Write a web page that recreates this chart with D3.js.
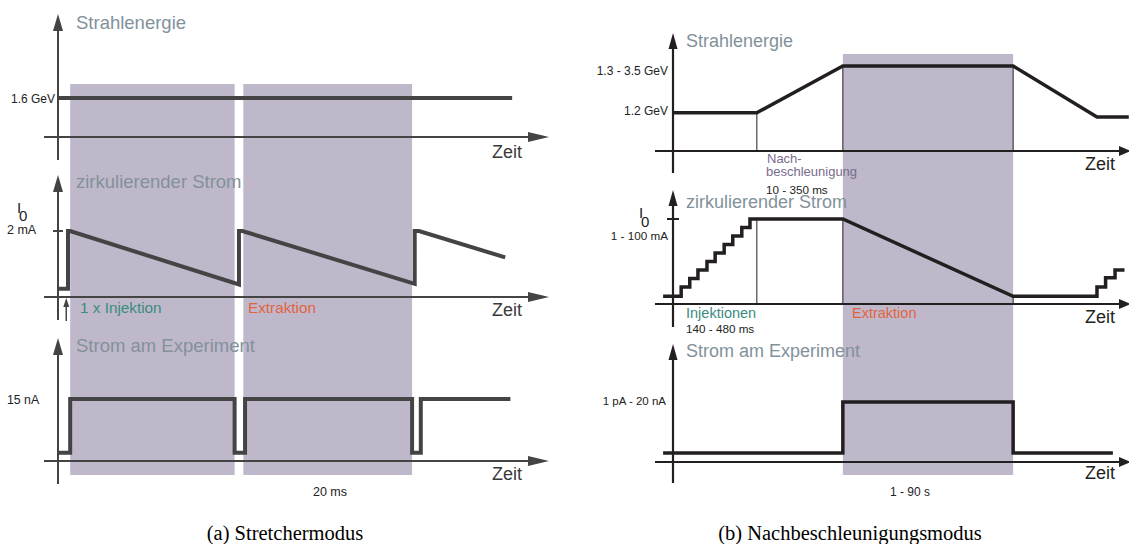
<!DOCTYPE html>
<html>
<head>
<meta charset="utf-8">
<script src="https://cdn.jsdelivr.net/npm/d3@7"></script>
<style>
  html, body { margin: 0; padding: 0; background: #fff; }
  svg { display: block; font-family: "Liberation Sans", Arial, Helvetica, sans-serif; }
</style>
</head>
<body>
<svg id="chart" width="1129" height="544"></svg>
<script>
// ---- (a) Stretchermodus : time in ms ----
const aExtraction = [[1.4, 20.3], [21.3, 40.7]];
const aEnergy = [[0, 1.6], [52.2, 1.6]];                       // GeV
const aCurrent = [[-0.1, 0.25], [1.15, 0.25], [1.15, 2], [1.4, 2], [20.8, 0.38], [20.8, 2], [21.2, 2],
                  [41.0, 0.4], [41.0, 2], [41.5, 2], [51.4, 1.2]]; // mA
const aBeam = [[-0.1, 2], [1.4, 2], [1.4, 15], [20.3, 15], [20.3, 2], [21.5, 2], [21.5, 15], [40.7, 15],
               [40.7, 2], [41.7, 2], [41.7, 15], [52, 15]];    // nA
const aTicks = ["1.6 GeV", "2 mA", "15 nA"];

// ---- (b) Nachbeschleunigungsmodus : schematic time, relative levels ----
const bExtraction = [[39.5, 79.1]];
const bEnergy = [[0, 0.45], [19.5, 0.45], [39.5, 1], [79.1, 1], [98.6, 0.4], [106, 0.4]];
const bCurrent = [[-2.3, 0.09], [1.9, 0.09], [1.9, 0.2], [3.9, 0.2], [3.9, 0.3], [5.8, 0.3], [5.8, 0.4],
                  [7.9, 0.4], [7.9, 0.5], [9.8, 0.5], [9.8, 0.6], [11.9, 0.6], [11.9, 0.7], [13.9, 0.7],
                  [13.9, 0.8], [16, 0.8], [16, 0.9], [17.9, 0.9], [17.9, 1], [39.5, 1], [79.1, 0.09],
                  [98.6, 0.09], [98.6, 0.2], [100.6, 0.2], [100.6, 0.31], [102.8, 0.31], [102.8, 0.4], [105, 0.4]];
const bBeam = [[-2.3, 0.15], [39.5, 0.15], [39.5, 1], [79.1, 1], [79.1, 0.15], [102.3, 0.15]];
const bGuides = [ // [row, time, from level, to level]
  [0, 19.5, 0.45, 0], [0, 39.5, 1, 0], [0, 79.1, 1, 0],
  [1, 19.5, 1, 0], [1, 39.5, 1, 0], [1, 79.1, 0.09, 0]
];
const bTicks = ["1.3 - 3.5 GeV", "1.2 GeV", "1 - 100 mA", "1 pA - 20 nA"];

const titles = ["Strahlenergie", "zirkulierender Strom", "Strom am Experiment"];

const C = { shade: "#bfb8cb", lineA: "#444444", lineB: "#231f20", title: "#82919a",
            teal: "#3b8c80", orange: "#e2643f", purple: "#7a6c8c" };

const svg = d3.select("#chart");

// scales
const xa = d3.scaleLinear().domain([0, 50]).range([58, 493]);
const xb = d3.scaleLinear().domain([0, 100]).range([673, 1103]);
const ya = [
  d3.scaleLinear().domain([0, 1.6]).range([137, 98]),
  d3.scaleLinear().domain([0, 2]).range([297, 231]),
  d3.scaleLinear().domain([0, 15]).range([461, 399])
];
const yb = [
  d3.scaleLinear().domain([0, 1]).range([151, 66]),
  d3.scaleLinear().domain([0, 1]).range([304, 219]),
  d3.scaleLinear().domain([0, 1]).range([462, 402])
];

// shaded extraction windows
svg.append("g").selectAll("rect")
  .data(aExtraction).join("rect")
    .attr("x", d => xa(d[0])).attr("width", d => xa(d[1]) - xa(d[0]))
    .attr("y", 84).attr("height", 391).attr("fill", C.shade);
svg.append("g").selectAll("rect")
  .data(bExtraction).join("rect")
    .attr("x", d => xb(d[0])).attr("width", d => xb(d[1]) - xb(d[0]))
    .attr("y", 54).attr("height", 421).attr("fill", C.shade);

// axes with arrow heads
function axes(x, ys, vTops, vBottoms, hStart, hEnd, color, w, head) {
  const g = svg.append("g");
  ys.forEach((y, i) => {
    const y0 = y(0), x0 = x(0);
    g.append("line").attr("x1", x0).attr("x2", x0).attr("y1", vBottoms[i]).attr("y2", vTops[i] + 8)
      .attr("stroke", color).attr("stroke-width", w);
    g.append("path").attr("fill", color)
      .attr("d", `M${x0},${vTops[i]}L${x0 - head.vw},${vTops[i] + head.vl}L${x0 + head.vw},${vTops[i] + head.vl}Z`);
    g.append("line").attr("x1", hStart).attr("x2", hEnd - 8).attr("y1", y0).attr("y2", y0)
      .attr("stroke", color).attr("stroke-width", w);
    g.append("path").attr("fill", color)
      .attr("d", `M${hEnd},${y0}L${hEnd - head.hl},${y0 - head.hw}L${hEnd - head.hl},${y0 + head.hw}Z`);
  });
  return g;
}
axes(xa, ya, [14, 175, 338], [160, 320, 484], 44, 549, C.lineA, 2, { vw: 5, vl: 17, hw: 5, hl: 21 });
axes(xb, yb, [33, 190, 344], [173, 327, 483], 655, 1131, C.lineB, 2.2, { vw: 4.5, vl: 16, hw: 5, hl: 12 });

// thin guide lines (b)
svg.append("g").selectAll("line")
  .data(bGuides).join("line")
    .attr("x1", d => xb(d[1])).attr("x2", d => xb(d[1]))
    .attr("y1", d => yb[d[0]](d[2])).attr("y2", d => yb[d[0]](d[3]))
    .attr("stroke", C.lineB).attr("stroke-width", 1);

// tick marks for I0
svg.append("line").attr("x1", 53).attr("x2", 63).attr("y1", ya[1](2)).attr("y2", ya[1](2))
  .attr("stroke", C.lineA).attr("stroke-width", 2);
svg.append("line").attr("x1", 667).attr("x2", 679).attr("y1", yb[1](1)).attr("y2", yb[1](1))
  .attr("stroke", C.lineB).attr("stroke-width", 2);

// data lines
function trace(data, x, y, color, w) {
  svg.append("path").datum(data)
    .attr("d", d3.line().x(d => x(d[0])).y(d => y(d[1])))
    .attr("fill", "none").attr("stroke", color).attr("stroke-width", w)
    .attr("stroke-linejoin", "miter").attr("stroke-linecap", "butt");
}
trace(aEnergy, xa, ya[0], C.lineA, 4);
trace(aCurrent, xa, ya[1], C.lineA, 4);
trace(aBeam, xa, ya[2], C.lineA, 4);
trace(bEnergy, xb, yb[0], C.lineB, 3.5);
trace(bCurrent, xb, yb[1], C.lineB, 3.5);
trace(bBeam, xb, yb[2], C.lineB, 3.5);

// single injection arrow (a)
const ix = xa(0.95);
svg.append("line").attr("x1", ix).attr("x2", ix).attr("y1", 321).attr("y2", 304)
  .attr("stroke", C.lineA).attr("stroke-width", 1.5);
svg.append("path").attr("fill", C.lineA).attr("d", `M${ix},298L${ix - 3},307L${ix + 3},307Z`);

// texts
function text(x, y, s, o = {}) {
  return svg.append("text").attr("x", x).attr("y", y).text(s)
    .attr("font-size", o.size || 12).attr("fill", o.color || "#222")
    .attr("text-anchor", o.anchor || "start")
    .attr("font-family", o.family || null);
}
[29, 188, 352].forEach((y, i) => text(76, y, titles[i], { size: 18.5, color: C.title }));
[47, 208, 357].forEach((y, i) => text(686, y, titles[i], { size: 18, color: C.title }));

[158, 316, 480].forEach(y => text(492, y, "Zeit", { size: 18, color: "#3a3a3a" }));
[170, 323, 479].forEach(y => text(1085, y, "Zeit", { size: 18, color: "#231f20" }));

text(11, 102.5, aTicks[0], { size: 12 });
text(7, 234, aTicks[1], { size: 12.5 });
text(7, 404, aTicks[2], { size: 12.3 });
text(17, 213, "I", { size: 15 });
text(19, 221, "0", { size: 15 });

text(668, 74.5, bTicks[0], { size: 12, anchor: "end" });
text(668, 114.5, bTicks[1], { size: 12, anchor: "end" });
text(668, 240, bTicks[2], { size: 11.7, anchor: "end" });
text(666, 404.5, bTicks[3], { size: 11.5, anchor: "end" });
text(639, 218, "I", { size: 15 });
text(641, 227, "0", { size: 15 });

text(80, 313, "1 x Injektion", { size: 15.3, color: C.teal });
text(248, 313, "Extraktion", { size: 15.3, color: C.orange });
text(686, 318, "Injektionen", { size: 14.5, color: C.teal });
text(686, 333, "140 - 480 ms", { size: 11.7 });
text(852, 318, "Extraktion", { size: 14.5, color: C.orange });
text(767, 163, "Nach-", { size: 13, color: C.purple });
text(766, 176, "beschleunigung", { size: 13, color: C.purple });
text(766, 193.5, "10 - 350 ms", { size: 11.7 });

text(330, 496, "20 ms", { size: 12.5, anchor: "middle" });
text(910, 496, "1 - 90 s", { size: 12, anchor: "middle" });

const serif = "'Liberation Serif', 'Times New Roman', Times, serif";
text(285, 540, "(a) Stretchermodus", { size: 20.5, anchor: "middle", color: "#000", family: serif });
text(850, 540, "(b) Nachbeschleunigungsmodus", { size: 20.5, anchor: "middle", color: "#000", family: serif });
</script>
</body>
</html>
